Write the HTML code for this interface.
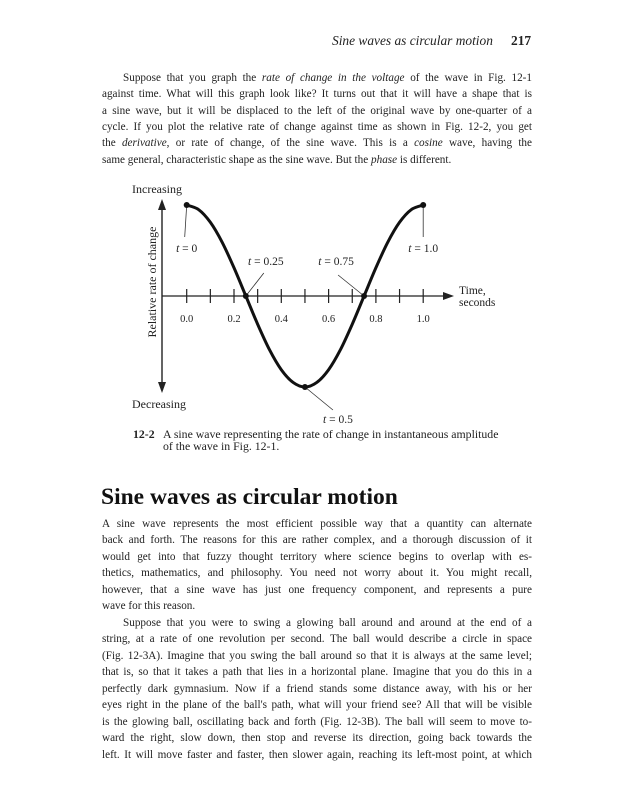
<!DOCTYPE html>
<html><head><meta charset="utf-8">
<style>
body{margin:0;background:#fff;}
#page{position:relative;width:627px;height:800px;overflow:hidden;background:#fff;font-family:"Liberation Serif",serif;color:#222;}
.ln{position:absolute;left:102px;width:430px;font-size:11.2px;line-height:16px;white-space:nowrap;text-align:justify;text-align-last:justify;}
.ln.last{text-align-last:left;}
.ind{left:123px;width:409px;}
#hdr{position:absolute;left:332px;top:33px;font-size:13.4px;font-style:italic;white-space:nowrap;}
#pg{position:absolute;left:511px;top:33px;font-size:13.4px;font-weight:bold;}
#h2{position:absolute;left:101px;top:484px;font-size:23.5px;font-weight:bold;color:#111;white-space:nowrap;}
#cap{position:absolute;left:133px;top:428px;font-size:11.8px;line-height:12px;white-space:nowrap;}
#cap .t{position:absolute;left:30px;top:0;}
svg text{font-family:"Liberation Serif",serif;fill:#222;}
</style></head><body>
<div id="page">
<div id="hdr">Sine waves as circular motion</div>
<div id="pg">217</div>

<div>
<div class="ln ind" style="top:70px">Suppose that you graph the <i>rate of change in the voltage</i> of the wave in Fig. 12-1</div>
<div class="ln" style="top:86px">against time. What will this graph look like? It turns out that it will have a shape that is</div>
<div class="ln" style="top:103px">a sine wave, but it will be displaced to the left of the original wave by one-quarter of a</div>
<div class="ln" style="top:119px">cycle. If you plot the relative rate of change against time as shown in Fig. 12-2, you get</div>
<div class="ln" style="top:135px">the <i>derivative</i>, or rate of change, of the sine wave. This is a <i>cosine</i> wave, having the</div>
<div class="ln last" style="top:152px">same general, characteristic shape as the sine wave. But the <i>phase</i> is different.</div>
</div>

<svg id="chart" style="position:absolute;left:0;top:0" width="627" height="428"></svg>

<div id="cap"><b>12-2</b><div class="t">A sine wave representing the rate of change in instantaneous amplitude<br>of the wave in Fig. 12-1.</div></div>

<div id="h2">Sine waves as circular motion</div>

<div>
<div class="ln" style="top:516px">A sine wave represents the most efficient possible way that a quantity can alternate</div>
<div class="ln" style="top:532px">back and forth. The reasons for this are rather complex, and a thorough discussion of it</div>
<div class="ln" style="top:549px">would get into that fuzzy thought territory where science begins to overlap with es-</div>
<div class="ln" style="top:565px">thetics, mathematics, and philosophy. You need not worry about it. You might recall,</div>
<div class="ln" style="top:582px">however, that a sine wave has just one frequency component, and represents a pure</div>
<div class="ln last" style="top:598px">wave for this reason.</div>
<div class="ln ind" style="top:615px">Suppose that you were to swing a glowing ball around and around at the end of a</div>
<div class="ln" style="top:631px">string, at a rate of one revolution per second. The ball would describe a circle in space</div>
<div class="ln" style="top:648px">(Fig. 12-3A). Imagine that you swing the ball around so that it is always at the same level;</div>
<div class="ln" style="top:664px">that is, so that it takes a path that lies in a horizontal plane. Imagine that you do this in a</div>
<div class="ln" style="top:681px">perfectly dark gymnasium. Now if a friend stands some distance away, with his or her</div>
<div class="ln" style="top:697px">eyes right in the plane of the ball's path, what will your friend see? All that will be visible</div>
<div class="ln" style="top:714px">is the glowing ball, oscillating back and forth (Fig. 12-3B). The ball will seem to move to-</div>
<div class="ln" style="top:730px">ward the right, slow down, then stop and reverse its direction, going back towards the</div>
<div class="ln" style="top:747px">left. It will move faster and faster, then slower again, reaching its left-most point, at which</div>
</div>
</div>
<script>
const times=[0,0.05,0.1,0.15,0.2,0.25,0.3,0.35,0.4,0.45,0.5,0.55,0.6,0.65,0.7,0.75,0.8,0.85,0.9,0.95,1.0];
const rates=[1,0.95,0.81,0.59,0.31,0,-0.31,-0.59,-0.81,-0.95,-1,-0.95,-0.81,-0.59,-0.31,0,0.31,0.59,0.81,0.95,1];
const tickValues=[0,0.1,0.2,0.3,0.4,0.5,0.6,0.7,0.8,0.9,1.0];
const tickLabels=["0.0","0.2","0.4","0.6","0.8","1.0"];
const labelValues=[0,0.2,0.4,0.6,0.8,1.0];
const markTimes=[0,0.25,0.5,0.75,1.0];
const markNames=["0","0.25","0.5","0.75","1.0"];

const NS="http://www.w3.org/2000/svg";
const svg=document.getElementById('chart');
const X=t=>186.7+t*236.5;
const Y=v=>296-v*91;
function mk(tag,a){const e=document.createElementNS(NS,tag);for(const k in a)e.setAttribute(k,a[k]);svg.appendChild(e);return e;}

let e=mk('line',{x1:162,y1:296,x2:446,y2:296,stroke:'#222','stroke-width':1.2});


mk('path',{d:'M454 296 L443 292 L443 300 Z',fill:'#222'});
e=mk('line',{x1:162,y1:206,x2:162,y2:386,stroke:'#222','stroke-width':1.4});


mk('path',{d:'M162 199 L158 210 L166 210 Z',fill:'#222'});
mk('path',{d:'M162 393 L158 382 L166 382 Z',fill:'#222'});

tickValues.forEach(v=>{const t=mk('line',{x1:X(v),y1:289,x2:X(v),y2:303,stroke:'#222','stroke-width':1.2});

});
labelValues.forEach((v,i)=>{const t=mk('text',{x:X(v),y:322,'text-anchor':'middle','font-size':10.5});t.textContent=tickLabels[i];

});

const pts=times.map((t,i)=>[X(t),Y(rates[i])]);
let d='M'+pts[0][0]+' '+pts[0][1];
for(let i=0;i<pts.length-1;i++){const p0=pts[Math.max(0,i-1)],p1=pts[i],p2=pts[i+1],p3=pts[Math.min(pts.length-1,i+2)];
d+=` C${p1[0]+(p2[0]-p0[0])/6} ${p1[1]+(p2[1]-p0[1])/6} ${p2[0]-(p3[0]-p1[0])/6} ${p2[1]-(p3[1]-p1[1])/6} ${p2[0]} ${p2[1]}`;}
e=mk('path',{d:d,fill:'none',stroke:'#111','stroke-width':3});



const lblOff=[[-2,32,0,43],[18,-23,20,-35],[28,23,33,32],[-26,-21,-28,-35],[0,32,0,43]];
markTimes.forEach((t,i)=>{const idx=times.indexOf(t);const px=X(t),py=Y(rates[idx]);
const [lx,ly,tx0,ty0]=lblOff[i];
const l=mk('line',{x1:px,y1:py,x2:px+lx,y2:py+ly,stroke:'#333','stroke-width':0.8});


const c=mk('circle',{cx:px,cy:py,r:3,fill:'#111'});


const tx=mk('text',{x:px+tx0,y:py+ty0+4,'text-anchor':'middle','font-size':11.5});
tx.innerHTML='<tspan font-style="italic">t</tspan> = '+markNames[i];

});

e=mk('text',{x:132,y:193,'font-size':12});e.textContent='Increasing';


e=mk('text',{x:132,y:408,'font-size':12});e.textContent='Decreasing';


e=mk('text',{x:156,y:282,'font-size':12,'text-anchor':'middle',transform:'rotate(-90 156 282)'});e.textContent='Relative rate of change';


e=mk('text',{x:459,y:294,'font-size':11.5});e.textContent='Time,';


e=mk('text',{x:459,y:306,'font-size':11.5});e.textContent='seconds';


</script>
</body></html>
